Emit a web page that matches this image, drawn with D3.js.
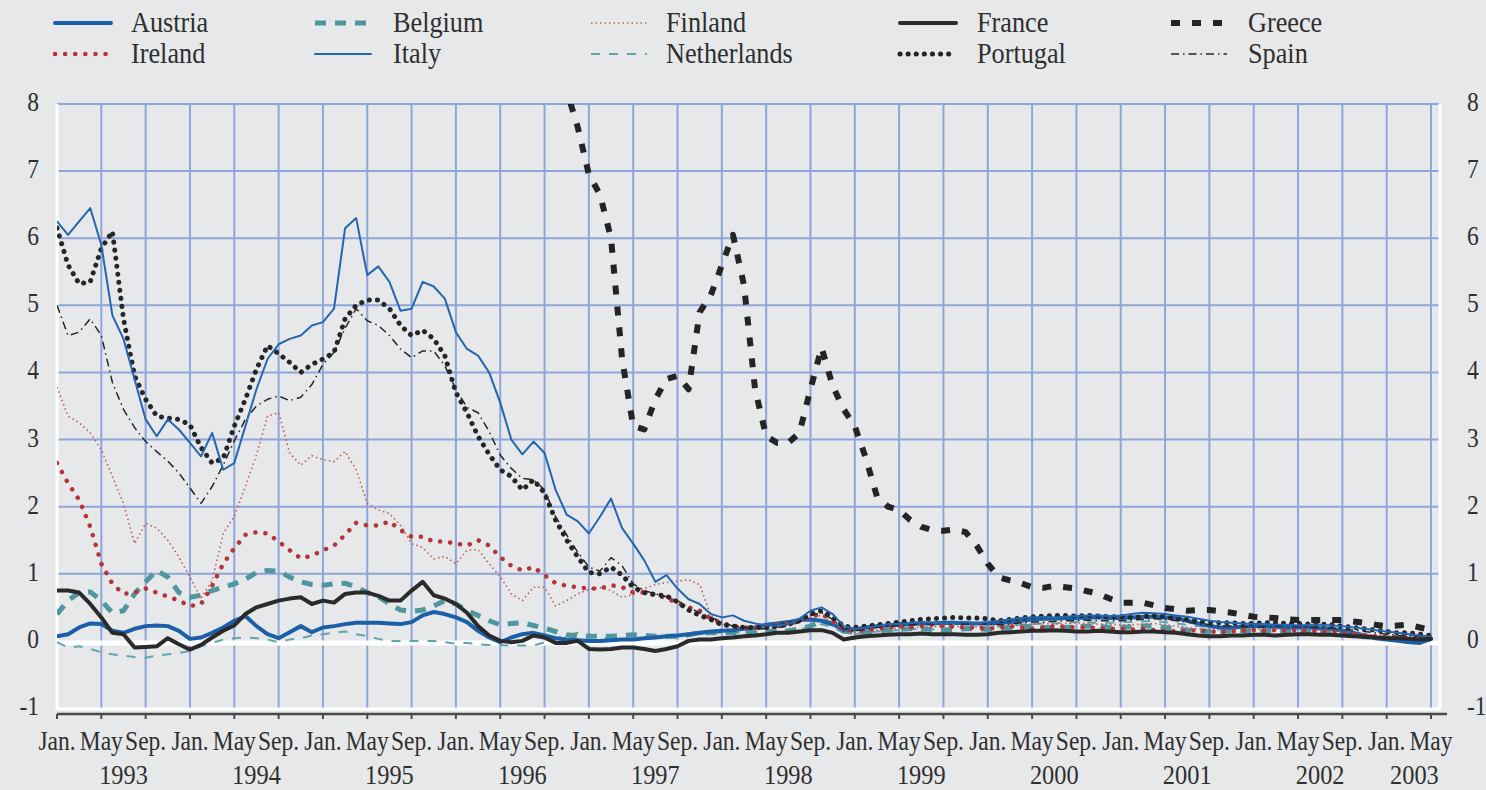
<!DOCTYPE html>
<html><head><meta charset="utf-8">
<script src="https://cdn.jsdelivr.net/npm/d3@7"></script>
<style>
html,body{margin:0;padding:0;background:#e7e8ea;}
svg{display:block;}
text{font-family:"Liberation Serif","Times New Roman",Times,"DejaVu Serif",serif;fill:#2f2f2f;}
</style></head>
<body>
<svg id="chart" width="1486" height="790"></svg>
<script>
// ---- Data (monthly, Jan 1993 .. May 2003) ----
const startYear = 1993;
const nMonths = 125;
const yTicks = [-1,0,1,2,3,4,5,6,7,8];
const monthTickLabels = ["Jan.","May","Sep."];
const yearLabels = ["1993","1994","1995","1996","1997","1998","1999","2000","2001","2002","2003"];

const austria = [0.07,0.1,0.2,0.26,0.25,0.15,0.12,0.18,0.22,0.23,0.22,0.15,
0.03,0.05,0.12,0.2,0.3,0.37,0.22,0.1,0.04,0.13,0.22,0.13,
0.2,0.22,0.25,0.27,0.27,0.27,0.26,0.25,0.28,0.38,0.43,0.4,
0.35,0.28,0.15,0.05,-0.02,0.05,0.1,0.12,0.08,0.04,0.02,0.01,
0.0,0.0,0.01,0.02,0.02,0.04,0.05,0.07,0.08,0.1,0.12,0.14,
0.15,0.16,0.18,0.2,0.24,0.26,0.28,0.31,0.32,0.3,0.25,0.16,
0.17,0.2,0.22,0.23,0.25,0.25,0.26,0.26,0.27,0.27,0.26,0.26,
0.26,0.27,0.28,0.3,0.32,0.33,0.33,0.34,0.34,0.35,0.35,0.34,
0.34,0.35,0.36,0.36,0.35,0.34,0.3,0.26,0.22,0.2,0.2,0.21,
0.22,0.22,0.21,0.2,0.2,0.2,0.19,0.18,0.15,0.12,0.08,0.04,
0.02,0.0,-0.02,-0.03,0.03];

const belgium = [0.4,0.6,0.72,0.73,0.6,0.42,0.45,0.7,0.88,1.05,0.95,0.72,
0.65,0.68,0.75,0.8,0.85,0.92,1.02,1.05,1.04,0.95,0.88,0.84,
0.83,0.85,0.86,0.8,0.72,0.66,0.55,0.46,0.44,0.46,0.52,0.6,
0.55,0.45,0.38,0.3,0.24,0.26,0.27,0.23,0.19,0.14,0.09,0.07,
0.07,0.07,0.07,0.08,0.09,0.08,0.07,0.07,0.07,0.09,0.12,0.12,
0.12,0.12,0.12,0.13,0.14,0.14,0.15,0.18,0.22,0.3,0.25,0.15,
0.12,0.13,0.15,0.16,0.17,0.18,0.18,0.17,0.16,0.17,0.18,0.18,
0.17,0.18,0.2,0.22,0.21,0.2,0.2,0.2,0.21,0.22,0.22,0.2,
0.2,0.21,0.22,0.22,0.2,0.18,0.16,0.15,0.14,0.14,0.15,0.15,
0.14,0.15,0.16,0.15,0.14,0.13,0.12,0.12,0.1,0.08,0.06,0.05,
0.04,0.04,0.03,0.03,0.03];

const finland = [3.78,3.35,3.25,3.1,2.85,2.45,2.05,1.45,1.75,1.68,1.5,1.25,
0.95,0.64,0.9,1.6,1.86,2.3,2.77,3.35,3.4,2.8,2.62,2.76,
2.7,2.67,2.82,2.55,2.05,1.95,1.9,1.72,1.45,1.39,1.22,1.26,
1.15,1.35,1.36,1.15,0.96,0.7,0.6,0.8,0.8,0.52,0.6,0.7,
0.77,0.79,0.75,0.65,0.69,0.78,0.84,0.87,0.89,0.91,0.84,0.38,
0.25,0.22,0.2,0.18,0.18,0.2,0.22,0.28,0.35,0.38,0.28,0.15,
0.12,0.14,0.16,0.18,0.19,0.2,0.2,0.21,0.22,0.22,0.2,0.21,
0.22,0.23,0.24,0.25,0.25,0.26,0.25,0.26,0.27,0.26,0.25,0.25,
0.24,0.24,0.25,0.26,0.24,0.22,0.2,0.18,0.17,0.16,0.17,0.18,
0.17,0.18,0.18,0.17,0.18,0.17,0.16,0.15,0.14,0.12,0.1,0.09,
0.08,0.07,0.06,0.05,0.05];

const france = [0.75,0.75,0.72,0.55,0.35,0.12,0.1,-0.1,-0.09,-0.08,0.04,-0.05,
-0.13,-0.06,0.05,0.15,0.23,0.4,0.5,0.55,0.6,0.63,0.65,0.55,
0.6,0.57,0.7,0.72,0.72,0.67,0.6,0.6,0.75,0.88,0.68,0.63,
0.55,0.42,0.22,0.08,0.0,-0.02,0.0,0.08,0.05,-0.03,-0.03,0.0,
-0.12,-0.13,-0.12,-0.1,-0.1,-0.12,-0.15,-0.12,-0.08,0.0,0.02,0.02,
0.04,0.05,0.07,0.08,0.1,0.12,0.12,0.14,0.16,0.16,0.12,0.02,
0.05,0.07,0.08,0.09,0.1,0.1,0.11,0.1,0.1,0.1,0.09,0.09,
0.1,0.12,0.13,0.14,0.15,0.15,0.16,0.15,0.14,0.14,0.15,0.14,
0.13,0.13,0.14,0.14,0.13,0.12,0.1,0.08,0.07,0.07,0.08,0.08,
0.09,0.09,0.08,0.09,0.1,0.1,0.09,0.09,0.08,0.07,0.06,0.05,
0.04,0.04,0.03,0.02,0.03];

const greece = [null,null,null,null,null,null,null,null,null,null,null,null,
null,null,null,null,null,null,null,null,null,null,null,null,
null,null,null,null,null,null,null,null,null,null,null,null,
null,null,null,null,null,null,null,null,9.2,8.7,8.2,7.65,
6.95,6.65,6.0,4.2,3.2,3.15,3.6,3.9,3.95,3.75,4.9,5.15,
5.6,6.05,5.3,3.75,3.05,2.95,2.95,3.1,3.75,4.37,3.8,3.45,
3.2,2.72,2.15,2.0,1.95,1.8,1.7,1.65,1.64,1.66,1.62,1.42,
1.15,0.95,0.9,0.86,0.8,0.79,0.82,0.8,0.78,0.74,0.7,0.63,
0.57,0.57,0.57,0.53,0.49,0.47,0.45,0.46,0.46,0.44,0.42,0.39,
0.36,0.35,0.34,0.32,0.31,0.31,0.31,0.31,0.31,0.29,0.27,0.24,
0.22,0.23,0.24,0.2,0.16];

const ireland = [2.65,2.35,2.1,1.7,1.15,0.85,0.7,0.72,0.78,0.72,0.66,0.6,
0.52,0.55,0.82,1.15,1.38,1.58,1.62,1.6,1.48,1.35,1.23,1.27,
1.35,1.42,1.58,1.76,1.72,1.72,1.78,1.65,1.55,1.55,1.48,1.48,
1.45,1.42,1.5,1.42,1.25,1.12,1.05,1.1,0.98,0.86,0.82,0.8,
0.78,0.78,0.83,0.8,0.72,0.72,0.68,0.64,0.56,0.5,0.45,0.33,
0.27,0.22,0.2,0.2,0.22,0.24,0.26,0.3,0.36,0.4,0.3,0.18,
0.15,0.16,0.18,0.2,0.22,0.2,0.22,0.24,0.22,0.21,0.2,0.2,
0.18,0.2,0.22,0.2,0.18,0.2,0.22,0.21,0.2,0.2,0.19,0.18,
0.18,0.17,0.18,0.16,0.15,0.14,0.15,0.16,0.14,0.13,0.14,0.15,
0.16,0.15,0.16,0.15,0.16,0.15,0.14,0.14,0.12,0.1,0.08,0.07,
0.06,0.05,0.06,0.05,0.04];

const italy = [6.25,6.05,6.25,6.45,5.9,4.85,4.5,3.9,3.3,3.05,3.3,3.15,
2.95,2.75,3.1,2.55,2.65,3.2,3.75,4.2,4.42,4.5,4.55,4.7,
4.75,4.95,6.15,6.3,5.45,5.58,5.35,4.92,4.95,5.35,5.28,5.1,
4.6,4.35,4.25,4.0,3.55,3.0,2.78,2.97,2.8,2.25,1.88,1.78,
1.6,1.85,2.12,1.68,1.45,1.2,0.88,0.98,0.78,0.62,0.55,0.4,
0.35,0.38,0.3,0.26,0.23,0.23,0.25,0.33,0.45,0.5,0.4,0.22,
0.18,0.2,0.22,0.25,0.25,0.27,0.28,0.27,0.26,0.27,0.28,0.26,
0.28,0.3,0.32,0.34,0.35,0.36,0.35,0.36,0.37,0.38,0.38,0.37,
0.38,0.4,0.42,0.41,0.4,0.38,0.36,0.33,0.3,0.28,0.27,0.26,
0.25,0.25,0.24,0.24,0.23,0.24,0.24,0.23,0.22,0.2,0.18,0.16,
0.14,0.12,0.1,0.08,0.06];

const netherlands = [-0.02,-0.1,-0.08,-0.12,-0.17,-0.2,-0.22,-0.24,-0.25,-0.22,-0.2,-0.18,
-0.15,-0.08,-0.03,0.02,0.04,0.05,0.04,0.02,-0.02,0.02,0.04,0.08,
0.1,0.12,0.14,0.1,0.07,0.03,0.0,0.0,0.0,0.0,0.0,-0.02,
-0.04,-0.03,-0.05,-0.06,-0.06,-0.07,-0.07,-0.07,-0.02,0.04,0.08,0.12,
0.1,0.05,0.04,0.03,0.02,0.03,0.04,0.06,0.08,0.09,0.1,0.12,
0.12,0.12,0.12,0.13,0.14,0.14,0.16,0.18,0.2,0.25,0.2,0.12,
0.1,0.12,0.14,0.15,0.16,0.17,0.18,0.17,0.18,0.19,0.2,0.2,
0.2,0.21,0.22,0.24,0.25,0.26,0.26,0.27,0.28,0.28,0.27,0.27,
0.28,0.28,0.29,0.3,0.28,0.26,0.24,0.22,0.2,0.19,0.19,0.2,
0.2,0.21,0.21,0.2,0.2,0.19,0.18,0.16,0.14,0.1,0.07,0.05,
0.03,0.02,0.02,0.01,0.02];

const portugal = [6.15,5.6,5.32,5.35,5.85,6.1,4.8,3.95,3.6,3.35,3.32,3.3,
3.22,2.88,2.65,2.72,3.2,3.6,4.05,4.4,4.28,4.15,4.0,4.12,
4.2,4.3,4.8,5.0,5.08,5.08,4.95,4.7,4.55,4.63,4.5,4.25,
3.7,3.4,3.05,2.78,2.55,2.45,2.25,2.4,2.2,1.8,1.5,1.25,
1.02,1.0,1.1,0.98,0.8,0.72,0.69,0.67,0.58,0.46,0.38,0.32,
0.24,0.22,0.2,0.2,0.2,0.22,0.25,0.3,0.4,0.45,0.35,0.22,
0.2,0.22,0.24,0.26,0.28,0.3,0.32,0.33,0.34,0.35,0.34,0.34,
0.33,0.3,0.32,0.34,0.36,0.37,0.38,0.38,0.37,0.38,0.37,0.36,
0.36,0.35,0.36,0.38,0.36,0.33,0.32,0.3,0.28,0.27,0.27,0.26,
0.26,0.27,0.27,0.26,0.26,0.25,0.25,0.24,0.22,0.2,0.18,0.16,
0.14,0.12,0.12,0.1,0.08];

const spain = [5.0,4.55,4.6,4.8,4.55,3.85,3.45,3.18,2.97,2.82,2.68,2.5,
2.28,2.05,2.3,2.62,2.98,3.3,3.5,3.6,3.65,3.58,3.63,3.82,
4.12,4.3,4.66,4.95,4.77,4.7,4.55,4.35,4.22,4.32,4.32,4.1,
3.75,3.48,3.4,3.12,2.77,2.57,2.42,2.4,2.25,1.85,1.58,1.32,
1.1,1.04,1.24,1.12,0.85,0.75,0.7,0.66,0.6,0.5,0.42,0.35,
0.28,0.22,0.2,0.18,0.18,0.2,0.22,0.28,0.38,0.42,0.32,0.18,
0.15,0.17,0.2,0.22,0.22,0.24,0.25,0.25,0.26,0.25,0.25,0.26,
0.25,0.24,0.25,0.27,0.28,0.28,0.29,0.3,0.3,0.31,0.3,0.3,
0.3,0.31,0.32,0.33,0.32,0.3,0.28,0.26,0.24,0.22,0.22,0.21,
0.2,0.21,0.22,0.22,0.21,0.2,0.2,0.19,0.18,0.16,0.14,0.12,
0.1,0.08,0.08,0.06,0.05];

// ---- Series styling ----
const series = [
  {name:"Netherlands", values:netherlands, color:"#5fa6ad", width:2,   dash:"9,9",      cap:"butt"},
  {name:"Belgium",     values:belgium,     color:"#4f979f", width:5,   dash:"11,9",     cap:"butt"},
  {name:"Austria",     values:austria,     color:"#1b5fa8", width:4,   dash:null,       cap:"round"},
  {name:"Finland",     values:finland,     color:"#c25a55", width:1.6, dash:"1.5,3",    cap:"butt"},
  {name:"Ireland",     values:ireland,     color:"#b5343a", width:4.5, dash:"0.1,10",   cap:"round"},
  {name:"Spain",       values:spain,       color:"#262626", width:1.5, dash:"8,4,1.5,4",cap:"butt"},
  {name:"Portugal",    values:portugal,    color:"#262626", width:5,   dash:"0.1,8",    cap:"round"},
  {name:"Italy",       values:italy,       color:"#2466b0", width:2,   dash:null,       cap:"round"},
  {name:"France",      values:france,      color:"#2a2a2a", width:4,   dash:null,       cap:"round"},
  {name:"Greece",      values:greece,      color:"#242424", width:6,   dash:"9,12",     cap:"butt"}
];
const legendOrder = [["Austria","Belgium","Finland","France","Greece"],
                     ["Ireland","Italy","Netherlands","Portugal","Spain"]];

// ---- Layout ----
const svg = d3.select("#chart");
const plot = {left:57, right:1439, top:104, bottom:708};
const x = d3.scaleLinear().domain([0,124]).range([57,1431]);
const y = d3.scaleLinear().domain([-1,8]).range([plot.bottom, plot.top]);
const FS = 27, SX = 0.87;

svg.append("rect").attr("width",1486).attr("height",790).attr("fill","#e7e8ea");

svg.append("clipPath").attr("id","clip").append("rect")
  .attr("x",plot.left).attr("y",plot.top).attr("width",plot.right-plot.left).attr("height",plot.bottom-plot.top);

const gridColor = "#8ea5d9";
const tickMonths = d3.range(0, nMonths, 4);
svg.append("g").selectAll("line").data(tickMonths.filter(m=>m>0)).join("line")
  .attr("x1",d=>x(d)).attr("x2",d=>x(d)).attr("y1",plot.top).attr("y2",plot.bottom)
  .attr("stroke",gridColor).attr("stroke-width",2);
svg.append("g").selectAll("line").data(yTicks.filter(v=>v>0)).join("line")
  .attr("x1",plot.left).attr("x2",plot.right).attr("y1",d=>y(d)).attr("y2",d=>y(d))
  .attr("stroke",gridColor).attr("stroke-width",2);
svg.append("line").attr("x1",plot.left).attr("x2",plot.left).attr("y1",plot.top).attr("y2",plot.bottom+1)
  .attr("stroke","#fff").attr("stroke-width",3);
svg.append("line").attr("x1",plot.right+1).attr("x2",plot.right+1).attr("y1",plot.top).attr("y2",plot.bottom+1)
  .attr("stroke","#fff").attr("stroke-width",3);
svg.append("line").attr("x1",plot.left).attr("x2",plot.right+2).attr("y1",y(-1)+1).attr("y2",y(-1)+1)
  .attr("stroke","#fff").attr("stroke-width",3);
svg.append("line").attr("x1",plot.left).attr("x2",plot.right+2).attr("y1",y(0)+2).attr("y2",y(0)+2)
  .attr("stroke","#fff").attr("stroke-width",5);

function label(g, txt, tx, ty, anchor, fs, sx){
  g.append("text").text(txt).attr("text-anchor",anchor)
   .attr("transform",`translate(${tx},${ty}) scale(${sx||SX},1)`).style("font-size",(fs||FS)+"px");
}
const yl = svg.append("g");
yTicks.forEach(v=>{
  label(yl, String(v), 39, y(v)+7, "end");
  label(yl, String(v), 1467, y(v)+7, "start");
});

const axisY = 714;
svg.append("line").attr("x1",plot.left).attr("x2",plot.right+8).attr("y1",axisY).attr("y2",axisY)
  .attr("stroke","#4a4a4a").attr("stroke-width",2.5);
svg.append("g").selectAll("line").data(tickMonths).join("line")
  .attr("x1",d=>x(d)).attr("x2",d=>x(d)).attr("y1",axisY).attr("y2",axisY+5)
  .attr("stroke","#4a4a4a").attr("stroke-width",2);
const xl = svg.append("g");
tickMonths.forEach(m=>{
  label(xl, monthTickLabels[(m%12)/4], x(m), 750, "middle");
});
yearLabels.forEach((yr,i)=>{
  const mid = (i < yearLabels.length-1) ? i*12+6 : i*12+2.5;
  label(xl, yr, x(mid), 784, "middle", 28);
});

const line = d3.line().defined(d=>d!==null).x((d,i)=>x(i)).y(d=>y(d)).curve(d3.curveLinear);
const lg = svg.append("g").attr("clip-path","url(#clip)");
series.forEach(s=>{
  lg.append("path").datum(s.values).attr("d",line).attr("fill","none")
    .attr("stroke",s.color).attr("stroke-width",s.width)
    .attr("stroke-dasharray",s.dash).attr("stroke-linecap",s.cap).attr("stroke-linejoin","round");
});

const legCols = [{sx:55, tx:131},{sx:315, tx:393},{sx:591, tx:666},{sx:900, tx:977},{sx:1171, tx:1248}];
const legRows = [23, 54];
const leg = svg.append("g");
legendOrder.forEach((row,ri)=>{
  row.forEach((name,ci)=>{
    const s = series.find(d=>d.name===name);
    const c = legCols[ci], ry = legRows[ri];
    leg.append("line").attr("x1",c.sx).attr("x2",c.sx+56).attr("y1",ry).attr("y2",ry)
      .attr("stroke",s.color).attr("stroke-width",s.width)
      .attr("stroke-dasharray",s.dash).attr("stroke-linecap",s.cap);
    label(leg, name, c.tx, ry+9, "start", 30, 0.875);
  });
});
</script>
</body></html>
